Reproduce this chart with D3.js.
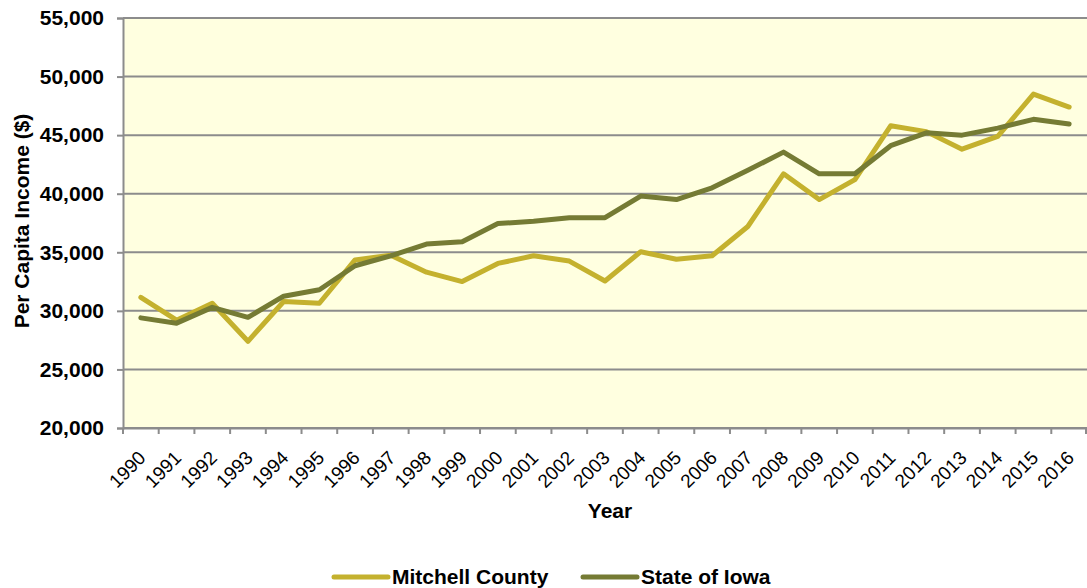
<!DOCTYPE html>
<html>
<head>
<meta charset="utf-8">
<script src="https://cdn.jsdelivr.net/npm/d3@7"></script>
<style>
  body { margin: 0; background: #fff; }
  text { font-family: "Liberation Sans", Arial, sans-serif; }
</style>
</head>
<body>
<div id="chart"></div>
<script>
// Chart data
const years = ["1990","1991","1992","1993","1994","1995","1996","1997","1998","1999",
  "2000","2001","2002","2003","2004","2005","2006","2007","2008","2009",
  "2010","2011","2012","2013","2014","2015","2016"];
const mitchell = [31150, 29200, 30650, 27400, 30800, 30650, 34350, 34750, 33300, 32500,
  34050, 34700, 34250, 32550, 35050, 34400, 34700, 37200, 41700, 39500,
  41200, 45800, 45300, 43800, 44900, 48500, 47400];
const iowa = [29400, 28950, 30300, 29450, 31250, 31800, 33850, 34700, 35700, 35900,
  37450, 37650, 37950, 37950, 39800, 39500, 40500, 42000, 43550, 41700,
  41700, 44100, 45200, 45000, 45600, 46350, 45950];
const yTicks = [20000, 25000, 30000, 35000, 40000, 45000, 50000, 55000];
const seriesNames = ["Mitchell County", "State of Iowa"];
const seriesColors = ["#c4b12e", "#757b34"];

const W = 1087, H = 588;
const margin = { top: 18, right: 0, bottom: 160, left: 123 };
const width = W - margin.left - margin.right;
const height = H - margin.top - margin.bottom;

const svg = d3.select("#chart").append("svg")
  .attr("width", W).attr("height", H);

const g = svg.append("g")
  .attr("transform", `translate(${margin.left}, ${margin.top})`);

// Plot background
g.append("rect")
  .attr("width", width).attr("height", height)
  .attr("fill", "#ffffe0");

const x = d3.scaleBand().domain(years).range([0, width]);
const y = d3.scaleLinear().domain([20000, 55000]).range([height, 0]);

// Gridlines
g.selectAll(".grid")
  .data(yTicks)
  .join("line")
  .attr("x1", 0).attr("x2", width)
  .attr("y1", d => y(d)).attr("y2", d => y(d))
  .attr("stroke", "#8c8c8c").attr("stroke-width", 2);

// Y axis
const yAxis = g.append("g")
  .call(d3.axisLeft(y).tickValues(yTicks).tickSize(6).tickPadding(13)
    .tickFormat(d3.format(",")));
yAxis.select(".domain").attr("stroke", "#8c8c8c").attr("stroke-width", 2);
yAxis.selectAll(".tick line").attr("stroke", "#8c8c8c").attr("stroke-width", 2);
yAxis.selectAll(".tick text")
  .attr("fill", "#000")
  .style("font-size", "21px").style("font-weight", "bold");

// X axis
const xAxis = g.append("g")
  .attr("transform", `translate(0, ${height})`)
  .call(d3.axisBottom(x).tickSize(6).tickSizeOuter(0));
xAxis.select(".domain").attr("stroke", "#8c8c8c").attr("stroke-width", 2);
xAxis.selectAll(".tick line")
  .attr("stroke", "#8c8c8c").attr("stroke-width", 2)
  .attr("transform", `translate(${-x.bandwidth() / 2}, 0)`);
xAxis.append("line")
  .attr("x1", width - 1).attr("x2", width - 1)
  .attr("y1", 0).attr("y2", 6)
  .attr("stroke", "#8c8c8c").attr("stroke-width", 2);
xAxis.selectAll(".tick text")
  .attr("fill", "#000")
  .style("font-size", "19px")
  .attr("text-anchor", "end")
  .attr("y", 0).attr("dy", "0")
  .attr("transform", "translate(6, 31) rotate(-45)");

// Lines
const line = d3.line()
  .x((d, i) => x(years[i]) + x.bandwidth() / 2)
  .y(d => y(d));

[mitchell, iowa].forEach((vals, i) => {
  g.append("path")
    .datum(vals)
    .attr("fill", "none")
    .attr("stroke", seriesColors[i])
    .attr("stroke-width", 5)
    .attr("stroke-linejoin", "round")
    .attr("stroke-linecap", "round")
    .attr("d", line);
});

// Axis titles
svg.append("text")
  .attr("transform", "translate(29, 221) rotate(-90)")
  .attr("text-anchor", "middle")
  .style("font-size", "21px").style("font-weight", "bold")
  .text("Per Capita Income ($)");

svg.append("text")
  .attr("x", 610).attr("y", 518)
  .attr("text-anchor", "middle")
  .style("font-size", "21px").style("font-weight", "bold")
  .text("Year");

// Legend
const legendX = [334, 583];
seriesNames.forEach((name, i) => {
  const lg = svg.append("g").attr("transform", `translate(${legendX[i]}, 577)`);
  lg.append("line")
    .attr("x1", 0).attr("x2", 54)
    .attr("stroke", seriesColors[i])
    .attr("stroke-width", 5)
    .attr("stroke-linecap", "round");
  lg.append("text")
    .attr("x", 58).attr("y", 7)
    .style("font-size", "21px").style("font-weight", "bold")
    .text(name);
});
</script>
</body>
</html>
